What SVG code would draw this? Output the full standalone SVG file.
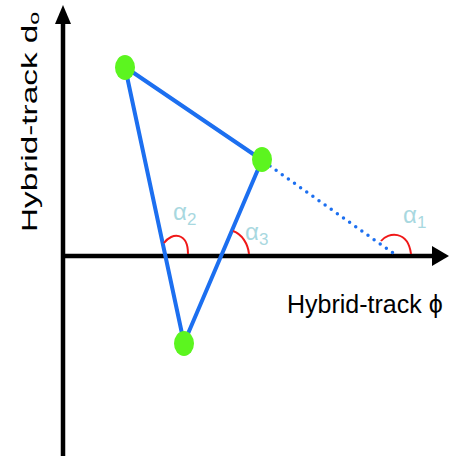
<svg xmlns="http://www.w3.org/2000/svg" width="460" height="456" viewBox="0 0 460 456">
<style>
.axis{stroke:#000;stroke-width:4.5;fill:none}
.edge{stroke:#1c6ff0;stroke-width:4;fill:none;stroke-linecap:round}
.dot{stroke:#1c6ff0;stroke-width:3.5;fill:none;stroke-dasharray:0 7.5;stroke-linecap:round}
.arc{stroke:#f01818;stroke-width:2;fill:none}
.node{fill:#5cf51f}
.lbl{font-family:"Liberation Sans",Arial,sans-serif;fill:#000}
.ang{font-family:"Liberation Sans",Arial,sans-serif;fill:#a8d8e0;font-size:24px}
</style>
<rect width="460" height="456" fill="#fff"/>
<g id="axes">
<line class="axis" x1="63" y1="456" x2="63" y2="22"/>
<polygon points="55,24 71,24 63,5" fill="#000"/>
<line class="axis" x1="63" y1="256" x2="434" y2="256"/>
<polygon points="432,246 432,266 449,256" fill="#000"/>
</g>
<g id="connectors">
<line class="edge" x1="125" y1="67" x2="262" y2="160"/>
<line class="edge" x1="125" y1="67" x2="184" y2="343"/>
<line class="edge" x1="262" y1="160" x2="184" y2="343"/>
<line class="dot" x1="270" y1="166" x2="393" y2="253"/>
</g>
<g id="angles">
<path class="arc" d="M 381 241 C 388 232, 408 230, 411 254"/>
<path class="arc" d="M 164 243 C 172 232, 188 232, 188 254"/>
<path class="arc" d="M 233 231 C 242 234, 248 244, 249 254"/>
</g>
<g id="nodeA"><ellipse class="node" cx="125" cy="67.5" rx="10" ry="12.5"/></g>
<g id="nodeB"><ellipse class="node" cx="262" cy="159.5" rx="10" ry="12.5"/></g>
<g id="nodeC"><ellipse class="node" cx="184" cy="343.5" rx="10" ry="12.5"/></g>
<g id="labels">
<text class="ang" x="403" y="223">α<tspan font-size="17" dy="5">1</tspan></text>
<text class="ang" x="173" y="220">α<tspan font-size="17" dy="5">2</tspan></text>
<text class="ang" x="245" y="240">α<tspan font-size="17" dy="5">3</tspan></text>
<text class="lbl" x="287" y="313" font-size="25">Hybrid-track ϕ</text>
<g transform="translate(37,232) rotate(-90) scale(1.55,1)">
<text class="lbl" x="0" y="0" font-size="21.5">Hybrid-track d<tspan font-size="15" dy="2">o</tspan></text>
</g>
</g>
</svg>
